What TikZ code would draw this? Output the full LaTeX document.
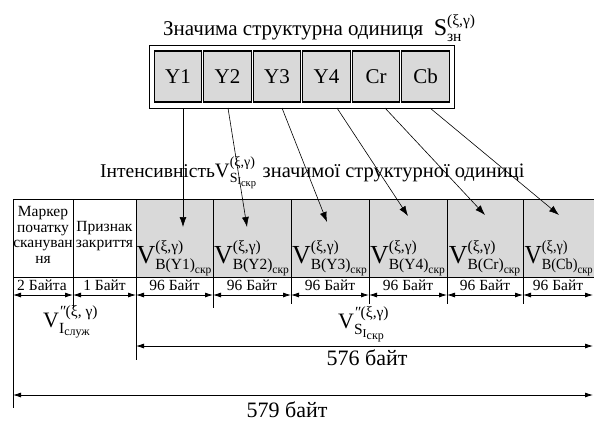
\documentclass[tikz,border=0pt]{standalone}
\usepackage{amsmath}
\usepackage{fontspec}
\setmainfont{Liberation Serif}
\usetikzlibrary{arrows.meta}
\DeclareMathSizes{26}{26}{15.5}{11.5}
\DeclareMathSizes{20.5}{20.5}{14}{10.5}
\DeclareMathSizes{22}{22}{15.5}{12}
\DeclareMathSizes{24}{24}{15.5}{13}
\definecolor{cellgrey}{HTML}{D9D9D9}
\newcommand\VBlab[1]{V$^{\text{(ξ,γ)}}_{\text{B(#1)}_{\text{скр}}}$}
\tikzset{
  ybox/.style={draw, line width=1.1pt, fill=cellgrey, minimum width=47.5pt, minimum height=51pt, inner sep=0pt, font=\fontsize{21}{24}\selectfont},
  ptr/.style={line width=0.6pt, -{Latex[length=10pt,width=7pt]}},
  dimline/.style={line width=0.8pt, {Latex[length=8pt,width=5pt]}-{Latex[length=8pt,width=5pt]}},
  tline/.style={line width=0.8pt},
  vlab/.style={anchor=base, inner sep=0pt, font=\fontsize{26}{28}\selectfont},
  celltext/.style={align=center, inner sep=0pt, font=\fontsize{15.5}{15.5}\selectfont},
  bytetext/.style={anchor=base, inner sep=0pt, font=\fontsize{15.5}{16}\selectfont},
  bigtext/.style={anchor=base west, inner sep=0pt, font=\fontsize{20.5}{22}\selectfont},
  dimtext/.style={anchor=base, inner sep=0pt, font=\fontsize{22}{24}\selectfont},
}
\begin{document}
\begin{tikzpicture}[x=1pt,y=-1pt]
\clip (0,0) rectangle (594,421);
\fill[white] (0,0) rectangle (594,421);

% title of the significant structural unit
\node[bigtext] (t1) at (163,35) {\fontsize{21}{22}\selectfont Значима структурна одиниця\ \ {\fontsize{24}{26}\selectfont S$^{\text{(ξ,γ)}}_{\text{зн}}$}};

% outer box and components
\node[draw, line width=0.8pt, minimum width=305pt, minimum height=63pt, inner sep=0pt] (outer) at (301.5,76.5) {};
\node[ybox] (y1) at (178,76.5) {Y1};
\node[ybox] (y2) at (227.5,76.5) {Y2};
\node[ybox] (y3) at (277,76.5) {Y3};
\node[ybox] (y4) at (326.5,76.5) {Y4};
\node[ybox] (cr) at (376,76.5) {Cr};
\node[ybox] (cb) at (425.5,76.5) {Cb};

% title of the intensity
\node[bigtext] (t2) at (100,177) {{\fontsize{19.5}{22}\selectfont Інтенсивність}V$^{\text{(ξ,γ)}}_{\text{S}_{\text{I}_{\text{скр}}}}$ значимої структурної одиниці};

% table
\fill[cellgrey] (136,199) rectangle (594,277);
\coordinate (tl) at (13,199);
\coordinate (tr) at (594,199);
\coordinate (ml) at (13,277);
\coordinate (mr) at (594,277);
\draw[tline] (tl) -- (tr);
\draw[tline] (ml) -- (mr);
\foreach \x/\b [count=\i] in {13/408,73/308,136/360,213/308,291/304,369/304,447/304,523/304}{
  \coordinate (ct\i) at (\x,199);
  \coordinate (cb\i) at (\x,\b);
  \draw[tline] (ct\i) -- (cb\i);
}

% cell texts
\node[celltext] (m1) at (43,235) {Маркер\\початку\\скануван\\ня};
\node[celltext] (m2) at (104.5,236) {Признак\\закриття};
\node[vlab] (v1) at (174.5,263) {\VBlab{Y1}};
\node[vlab] (v2) at (252,263) {\VBlab{Y2}};
\node[vlab] (v3) at (330,263) {\VBlab{Y3}};
\node[vlab] (v4) at (408,263) {\VBlab{Y4}};
\node[vlab] (v5) at (485,263) {\VBlab{Cr}};
\node[vlab, anchor=base west, xscale=0.92] (v6) at (524.5,263) {\VBlab{Cb}};

% pointers from components to cells
\coordinate (s1) at (183,108);   \coordinate (e1) at (183,227);
\coordinate (s2) at (228,108);   \coordinate (e2) at (247,227);
\coordinate (s3) at (282,108);   \coordinate (e3) at (327,222);
\coordinate (s4) at (337,108);   \coordinate (e4) at (408,216);
\coordinate (s5) at (385,108);   \coordinate (e5) at (485,215);
\coordinate (s6) at (430,108);   \coordinate (e6) at (559,215);
\foreach \i in {1,...,6}{ \draw[ptr] (s\i) -- (e\i); }

% byte row
\node[bytetext] (b1) at (42,290) {2 Байта};
\node[bytetext] (b2) at (104.5,290) {1 Байт};
\node[bytetext] (b3) at (174.5,290) {96 Байт};
\node[bytetext] (b4) at (252,290) {96 Байт};
\node[bytetext] (b5) at (330,290) {96 Байт};
\node[bytetext] (b6) at (408,290) {96 Байт};
\node[bytetext] (b7) at (485,290) {96 Байт};
\node[bytetext] (b8) at (558,290) {96 Байт};
\foreach \x [count=\i] in {13,73,136,213,291,369,447,523,593}{
  \coordinate (d\i) at (\x,295);
}
\foreach \i [evaluate=\i as \j using int(\i+1)] in {1,...,8}{
  \draw[dimline] (d\i) -- (d\j);
}

% group labels
\node[anchor=base west, inner sep=0pt, font=\fontsize{22}{24}\selectfont] (g1) at (43,327) {V$^{\text{\textit{″}(ξ, γ)}}_{\text{I}_{\text{служ}}}$};
\node[anchor=base west, inner sep=0pt, font=\fontsize{22}{24}\selectfont] (g2) at (338,328) {V$^{\text{\textit{″}(ξ,γ)}}_{\text{S}_{\text{I}_{\text{скр}}}}$};

% total dimensions
\coordinate (a1) at (136,346);
\coordinate (a2) at (593,346);
\draw[dimline] (a1) -- (a2);
\node[dimtext] (l576) at (367,365) {576 байт};
\coordinate (c1) at (13,395);
\coordinate (c2) at (593,395);
\draw[dimline] (c1) -- (c2);
\node[dimtext] (l579) at (287,417) {579 байт};
\end{tikzpicture}
\end{document}
